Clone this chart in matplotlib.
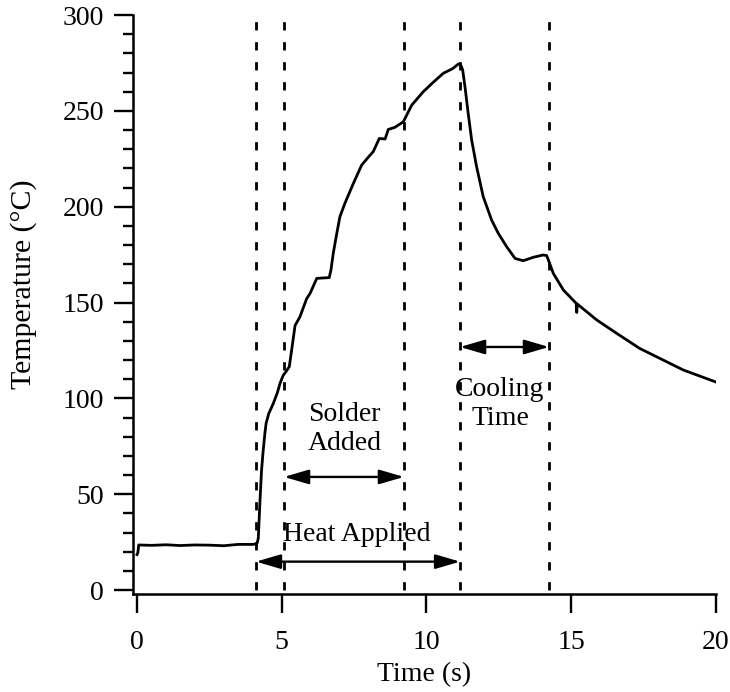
import numpy as np
import matplotlib
matplotlib.use("Agg")
import matplotlib.pyplot as plt

# Temperature trace (time in s, temperature in degC)
time_s = [0.0, 0.03, 0.06, 0.5, 1.0, 1.5, 2.0, 2.5, 3.0, 3.5, 4.0, 4.1,
          4.15, 4.19, 4.25, 4.30, 4.36, 4.42, 4.46, 4.55, 4.71, 4.85, 4.94,
          5.05, 5.15, 5.26, 5.34, 5.46, 5.63, 5.86, 5.98, 6.21, 6.64, 6.70,
          6.78, 6.90, 7.01, 7.18, 7.47, 7.76, 8.00, 8.16, 8.37, 8.57, 8.68,
          8.91, 9.20, 9.29, 9.49, 9.89, 10.24, 10.58, 10.90, 11.10, 11.16,
          11.21, 11.25, 11.33, 11.44, 11.56, 11.73, 11.96, 12.25, 12.48, 12.77,
          13.06, 13.34, 13.69, 14.03, 14.15, 14.21, 14.38, 14.73, 15.17,
          15.19, 15.21, 15.88, 16.57, 17.37, 18.87, 20.0]
temp_c = [18.5, 19.5, 23.5, 23.3, 23.6, 23.2, 23.5, 23.4, 23.1, 23.8, 23.8, 24.0,
          24.5, 27.0, 47.0, 62.0, 73.0, 82.0, 87.0, 92.0, 97.4, 103.0, 107.8,
          112.0, 114.0, 116.5, 125.0, 138.0, 142.6, 152.0, 154.8, 162.6, 163.0, 167.0,
          175.7, 186.0, 194.8, 201.7, 212.0, 221.7, 226.0, 228.7, 235.6, 235.3, 240.3,
          241.4, 244.3, 247.0, 253.0, 260.0, 265.0, 269.6, 272.0, 274.4, 274.5,
          273.0, 271.3, 262.6, 248.7, 234.8, 220.9, 205.2, 193.0, 186.1, 179.1,
          173.0, 171.8, 173.6, 174.8, 174.5, 172.2, 165.2, 156.5, 149.6,
          144.8, 149.2, 140.9, 133.9, 126.0, 114.8, 108.5]

# Event markers (s)
event_times = [4.11, 5.08, 9.22, 11.16, 14.23]

# Span annotations: (start, end, arrow level, label, label x, label y)
span_start = [4.11, 5.08, 11.16]
span_end = [11.16, 9.22, 14.23]
span_level = [14.8, 59.0, 126.8]
span_label = ["Heat Applied", "Solder\nAdded", "Cooling\nTime"]
label_x = [7.58, 7.18, 12.54]
label_y = [28.7, 84.0, 97.0]

plt.rcParams['font.family'] = ['Liberation Serif', 'DejaVu Serif']
plt.rcParams['font.size'] = 20

fig = plt.figure(figsize=(7.30, 6.92), dpi=100)
ax = fig.add_axes([0.1822, 0.1416, 0.7986, 0.8367])

# dashed event lines
for t in event_times:
    ax.plot([t, t], [0, 300], color='black', lw=2.0, dashes=(3, 4.2), clip_on=False)

# temperature curve
ax.plot(time_s, temp_c, color='black', lw=2.0)

# double-headed arrows and their labels
for x0, x1, y, lab, lx, ly in zip(span_start, span_end, span_level, span_label, label_x, label_y):
    ax.annotate('', xy=(x1, y), xytext=(x0, y),
                arrowprops=dict(arrowstyle='<|-|>,head_length=0.75,head_width=0.22',
                                color='black', lw=1.7, shrinkA=0, shrinkB=0,
                                mutation_scale=20))
    ax.text(lx, ly, lab, ha='center', va='center', linespacing=1.2)

ax.set_xlim(-0.138, 20)
ax.set_ylim(-2.09, 300)
ax.set_xticks([0, 5, 10, 15, 20])
ax.set_yticks(np.arange(0, 301, 50))
ax.set_yticks(np.arange(0, 301, 10), minor=True)

for side in ['top', 'right']:
    ax.spines[side].set_visible(False)
for side in ['left', 'bottom']:
    ax.spines[side].set_linewidth(1.8)

ax.tick_params(axis='both', which='major', direction='out', length=14, width=1.7)
ax.tick_params(axis='y', which='minor', direction='out', length=7, width=1.7)
ax.tick_params(axis='x', pad=12)
ax.tick_params(axis='y', pad=7)

ax.set_xlabel("Time (s)")
ax.set_ylabel("Temperature (\u00b0C)", fontsize=21.5)
ax.xaxis.set_label_coords(0.5, -0.118)
ax.yaxis.set_label_coords(-0.165, 0.535)

fig.savefig("out.png", dpi=100)
